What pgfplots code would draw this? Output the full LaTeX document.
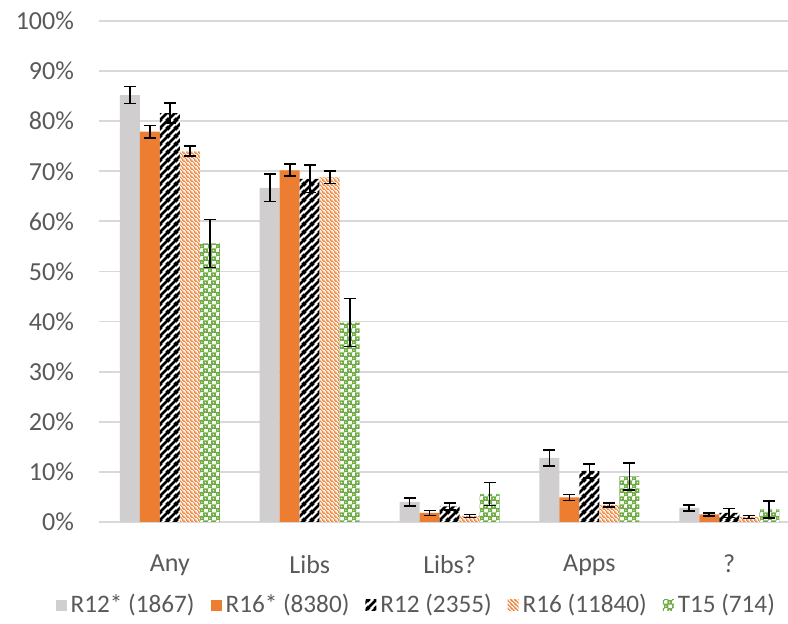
\documentclass[border=0pt]{standalone}
\usepackage{fontspec}
\setmainfont{Carlito}
\usepackage{pgfplots}
\pgfplotsset{compat=1.18}
\usepackage{pgfplotstable}
\usetikzlibrary{patterns}

\definecolor{txtgray}{HTML}{595959}
\definecolor{gridgray}{HTML}{D9D9D9}
\definecolor{bargray}{HTML}{D0CECE}
\definecolor{barorange}{HTML}{ED7D31}
\definecolor{bargreen}{HTML}{70AD47}

\pgfdeclarepatternformonly{wideup}{\pgfpointorigin}{\pgfpoint{4pt}{4pt}}{\pgfpoint{4pt}{4pt}}{%
  \pgfsetlinewidth{1.5pt}
  \pgfpathmoveto{\pgfpoint{-1pt}{-1pt}}\pgfpathlineto{\pgfpoint{5pt}{5pt}}
  \pgfpathmoveto{\pgfpoint{-1pt}{3pt}}\pgfpathlineto{\pgfpoint{1pt}{5pt}}
  \pgfpathmoveto{\pgfpoint{3pt}{-1pt}}\pgfpathlineto{\pgfpoint{5pt}{1pt}}
  \pgfusepath{stroke}}

\pgfdeclarepatternformonly{ltdown}{\pgfpointorigin}{\pgfpoint{2pt}{2pt}}{\pgfpoint{2pt}{2pt}}{%
  \pgfsetlinewidth{0.6pt}
  \pgfpathmoveto{\pgfpoint{-0.5pt}{2.5pt}}\pgfpathlineto{\pgfpoint{2.5pt}{-0.5pt}}
  \pgfpathmoveto{\pgfpoint{-0.5pt}{0.5pt}}\pgfpathlineto{\pgfpoint{0.5pt}{-0.5pt}}
  \pgfpathmoveto{\pgfpoint{1.5pt}{2.5pt}}\pgfpathlineto{\pgfpoint{2.5pt}{1.5pt}}
  \pgfusepath{stroke}}

\pgfdeclarepatterninherentlycolored{greenchk}{\pgfpointorigin}{\pgfpoint{4pt}{4pt}}{\pgfpoint{4pt}{4pt}}{%
  \pgfsetfillcolor{bargreen}
  \pgfpathrectangle{\pgfpoint{-0.2pt}{-0.2pt}}{\pgfpoint{2.5pt}{2.5pt}}
  \pgfpathrectangle{\pgfpoint{1.8pt}{1.8pt}}{\pgfpoint{2.5pt}{2.5pt}}
  \pgfpathrectangle{\pgfpoint{3.8pt}{-0.2pt}}{\pgfpoint{0.5pt}{0.5pt}}
  \pgfpathrectangle{\pgfpoint{-0.2pt}{3.8pt}}{\pgfpoint{0.5pt}{0.5pt}}
  \pgfusepath{fill}
  \pgfsetfillcolor{white}
  \pgfpathcircle{\pgfpoint{1.05pt}{1.05pt}}{0.4pt}
  \pgfpathcircle{\pgfpoint{3.05pt}{3.05pt}}{0.4pt}
  \pgfusepath{fill}}

\pgfplotstableread{
x y e
0 85.2 1.7
1 66.7 2.7
2 4.0 0.8
3 12.8 1.6
4 2.8 0.6
}\rAstar
\pgfplotstableread{
x y e
0 77.9 1.2
1 70.2 1.2
2 1.8 0.5
3 4.9 0.6
4 1.5 0.3
}\rBstar
\pgfplotstableread{
x y e
0 81.6 2.0
1 68.5 2.7
2 3.1 0.7
3 10.2 1.4
4 1.8 0.9
}\rA
\pgfplotstableread{
x y e
0 74.0 1.0
1 68.8 1.2
2 1.2 0.3
3 3.4 0.4
4 1.0 0.3
}\rB
\pgfplotstableread{
x y e
0 55.6 4.8
1 39.8 4.8
2 5.6 2.3
3 9.1 2.7
4 2.5 1.7
}\tA

\begin{document}
\begin{tikzpicture}
\begin{axis}[
  name=ax,
  scale only axis,
  width=344.5pt, height=250.5pt,
  ymin=0, ymax=100, xmin=-0.507, xmax=4.42,
  ybar=0pt, bar width=10pt,
  ytick={0,10,...,100},
  yticklabel={\pgfmathprintnumber[assume math mode=true]{\tick}\%},
  xtick={0,1,2,3,4},
  xticklabels={Any,Libs,Libs?,Apps,?},
  ymajorgrids,
  grid style={gridgray, line width=0.9pt},
  axis x line*=bottom, axis y line*=left,
  separate axis lines,
  x axis line style={gridgray, line width=0.9pt, -},
  y axis line style={draw=none},
  major tick length=0pt,
  tick style={draw=none},
  tick label style={font=\fontsize{13}{15}\selectfont, text=txtgray},
  yticklabel style={xshift=-9pt},
  xticklabel style={yshift=-13pt},
  legend columns=5,
  legend style={draw=none, fill=none, at={(0.462,-0.166)}, anchor=center,
    font=\fontsize{12.6}{15}\selectfont, text=txtgray,
    /tikz/every even column/.append style={column sep=6pt},
    inner sep=0pt},
  legend image code/.code={\path[#1] (0pt,-2.75pt) rectangle (5.5pt,2.75pt);},
  error bars/error bar style={black, line width=0.8pt},
  error bars/error mark options={black, line width=0.8pt, mark size=3pt, rotate=90},
]
\addplot[fill=bargray, draw=none, error bars/.cd, y dir=both, y explicit]
  table[x=x, y=y, y error=e]{\rAstar};
\addlegendentry{R12* (1867)}
\addplot[fill=barorange, draw=none, error bars/.cd, y dir=both, y explicit]
  table[x=x, y=y, y error=e]{\rBstar};
\addlegendentry{R16* (8380)}
\addplot[fill=white, draw=none, postaction={pattern=wideup, pattern color=black},
  error bars/.cd, y dir=both, y explicit]
  table[x=x, y=y, y error=e]{\rA};
\addlegendentry{R12 (2355)}
\addplot[fill=white, draw=none, postaction={pattern=ltdown, pattern color=barorange},
  error bars/.cd, y dir=both, y explicit]
  table[x=x, y=y, y error=e]{\rB};
\addlegendentry{R16 (11840)}
\addplot[fill=white, draw=none, postaction={pattern=greenchk},
  error bars/.cd, y dir=both, y explicit]
  table[x=x, y=y, y error=e]{\tA};
\addlegendentry{T15 (714)}
\end{axis}
\pgfresetboundingbox
\path[use as bounding box] (ax.south west) ++(-49.5pt,-51pt) rectangle ++(394pt,312pt);
\end{tikzpicture}
\end{document}
